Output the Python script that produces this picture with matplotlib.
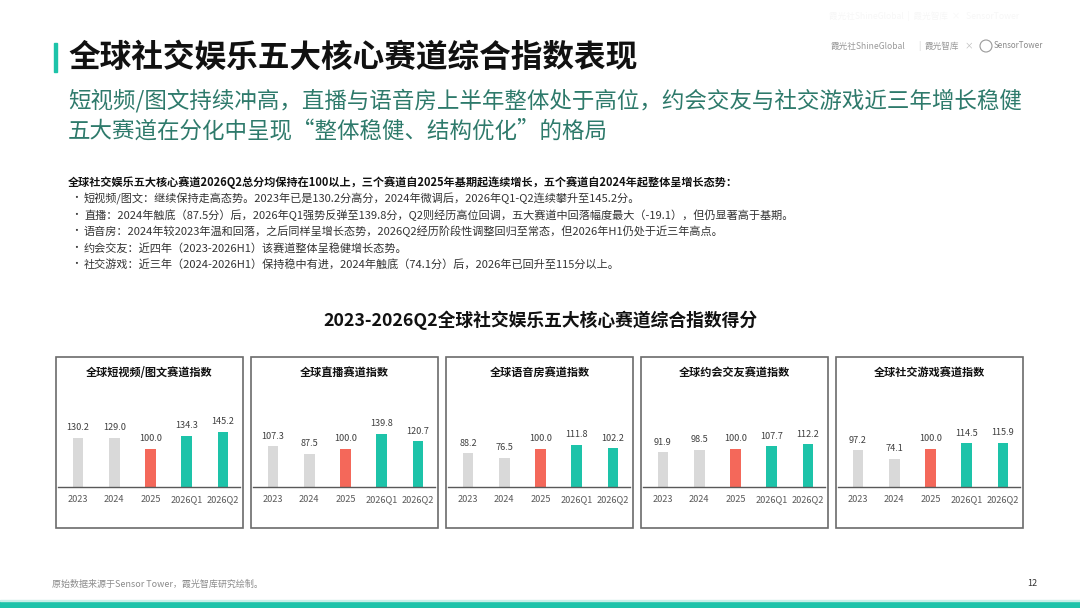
import matplotlib
matplotlib.use('Agg')
import matplotlib.pyplot as plt
from matplotlib.patches import Rectangle, Ellipse

plt.rcParams['font.family'] = ['Noto Sans CJK SC', 'DejaVu Sans']

# ---- data ----
categories = ['2023', '2024', '2025', '2026Q1', '2026Q2']
panel_titles = ['全球短视频/图文赛道指数', '全球直播赛道指数', '全球语音房赛道指数',
                '全球约会交友赛道指数', '全球社交游戏赛道指数']
short_video = [130.2, 129.0, 100.0, 134.3, 145.2]
live = [107.3, 87.5, 100.0, 139.8, 120.7]
voice_room = [88.2, 76.5, 100.0, 111.8, 102.2]
dating = [91.9, 98.5, 100.0, 107.7, 112.2]
social_game = [97.2, 74.1, 100.0, 114.5, 115.9]
series = [short_video, live, voice_room, dating, social_game]

title = '全球社交娱乐五大核心赛道综合指数表现'
subtitle1 = '短视频/图文持续冲高，直播与语音房上半年整体处于高位，约会交友与社交游戏近三年增长稳健'
subtitle2 = '五大赛道在分化中呈现“整体稳健、结构优化”的格局'
lead = ('全球社交娱乐五大核心赛道2026Q2总分均保持在100以上，三个赛道自2025年基期起连续增长，'
        '五个赛道自2024年起整体呈增长态势：')
bullets = [
    '短视频/图文：继续保持走高态势。2023年已是130.2分高分，2024年微调后，2026年Q1-Q2连续攀升至145.2分。',
    '直播：2024年触底（87.5分）后，2026年Q1强势反弹至139.8分，Q2则经历高位回调，五大赛道中回落幅度最大（-19.1），但仍显著高于基期。',
    '语音房：2024年较2023年温和回落，之后同样呈增长态势，2026Q2经历阶段性调整回归至常态，但2026年H1仍处于近三年高点。',
    '约会交友：近四年（2023-2026H1）该赛道整体呈稳健增长态势。',
    '社交游戏：近三年（2024-2026H1）保持稳中有进，2024年触底（74.1分）后，2026年已回升至115分以上。',
]
chart_title = '2023-2026Q2全球社交娱乐五大核心赛道综合指数得分'
footer = '原始数据来源于Sensor Tower，霞光智库研究绘制。'

GRAY = '#D9D9D9'
RED = '#F4685A'
TEAL = '#1DC3A9'
bar_colors = [GRAY, GRAY, RED, TEAL, TEAL]

W, H = 1080, 608
fig = plt.figure(figsize=(W / 100, H / 100), dpi=100)
fig.patch.set_facecolor('white')


def fx(x):
    return x / W


def fy(y):
    return 1 - y / H


def ftext(x, y, s, **kw):
    fig.text(fx(x), fy(y), s, **kw)


# header
fig.add_artist(Rectangle((fx(54), fy(72)), 3 / W, 29 / H, color=TEAL,
                         transform=fig.transFigure))
ftext(68, 58, title, fontsize=22.8, fontweight='bold', color='#111111', va='center')
ftext(68, 101, subtitle1, fontsize=16.2, color='#2E7A6B', va='center')
ftext(68, 131, subtitle2, fontsize=16.2, color='#2E7A6B', va='center')

# logos
ftext(830, 46, '霞光社ShineGlobal', fontsize=6.2, color='#9a9a9a', va='center')
ftext(918, 46, '|', fontsize=6, color='#cccccc', va='center')
ftext(924, 46, '霞光智库', fontsize=6.2, color='#9a9a9a', va='center')
ftext(964, 46, '×', fontsize=6.2, color='#bbbbbb', va='center')
fig.add_artist(Ellipse((fx(986), fy(46)), 12 / W, 12 / H, fill=False, ec='#9a9a9a',
                       lw=0.8, transform=fig.transFigure))
ftext(994, 46, 'SensorTower', fontsize=5.8, color='#8a8a8a', va='center')
ftext(829, 16, '霞光社ShineGlobal  |  霞光智库  ×   SensorTower', fontsize=6.2,
      color='#f7f7f7', va='center')

# summary text
ftext(68, 182, lead, fontsize=8, fontweight='bold', color='#111111', va='center')
for i, b in enumerate(bullets):
    y = 198.5 + i * 16.5
    ftext(71, y, '•', fontsize=7, color='#333333', va='center')
    ftext(84, y, b, fontsize=8, color='#333333', va='center')

ftext(540, 320, chart_title, fontsize=12.8, fontweight='bold', color='#111111',
      ha='center', va='center')

# panels
px_per_unit = 0.38
base_y = 487
top_y = 400
for i, (name, vals) in enumerate(zip(panel_titles, series)):
    left = 56 + i * 195
    fig.add_artist(Rectangle((fx(left), fy(528)), 187 / W, 171 / H, fill=False,
                             ec='#6b6b6b', lw=1.2, transform=fig.transFigure))
    ftext(left + 93.5, 373, name, fontsize=8, fontweight='bold', color='#111111',
          ha='center', va='center')

    ax = fig.add_axes([fx(left + 2), fy(base_y), 182 / W, (base_y - top_y) / H])
    x = range(len(categories))
    bars = ax.bar(x, vals, width=0.3, color=bar_colors)
    ax.set_xlim(-0.55, 4.47)
    ax.set_ylim(0, (base_y - top_y) / px_per_unit)
    for rect, v in zip(bars, vals):
        ax.annotate(f'{v:.1f}', (rect.get_x() + rect.get_width() / 2, v),
                    xytext=(0, 4), textcoords='offset points', ha='center',
                    va='bottom', fontsize=6.6, color='#404040')
    ax.set_xticks(list(x))
    ax.set_xticklabels(categories, fontsize=6.6, color='#595959')
    ax.tick_params(axis='x', length=0, pad=6)
    ax.set_yticks([])
    for s in ['top', 'left', 'right']:
        ax.spines[s].set_visible(False)
    ax.spines['bottom'].set_color('#595959')
    ax.spines['bottom'].set_linewidth(1)
    ax.patch.set_alpha(0)

# footer
ftext(52, 584, footer, fontsize=6.5, color='#8c8c8c', va='center')
ftext(1037, 584, '12', fontsize=6.5, color='#333333', va='center', ha='right')
fig.add_artist(Rectangle((0, 0), 1, 7 / H, color=TEAL, transform=fig.transFigure))
fig.add_artist(Rectangle((0, 7 / H), 1, 1.5 / H, color='#c8efe8', transform=fig.transFigure))

fig.savefig('out.png', dpi=100)
